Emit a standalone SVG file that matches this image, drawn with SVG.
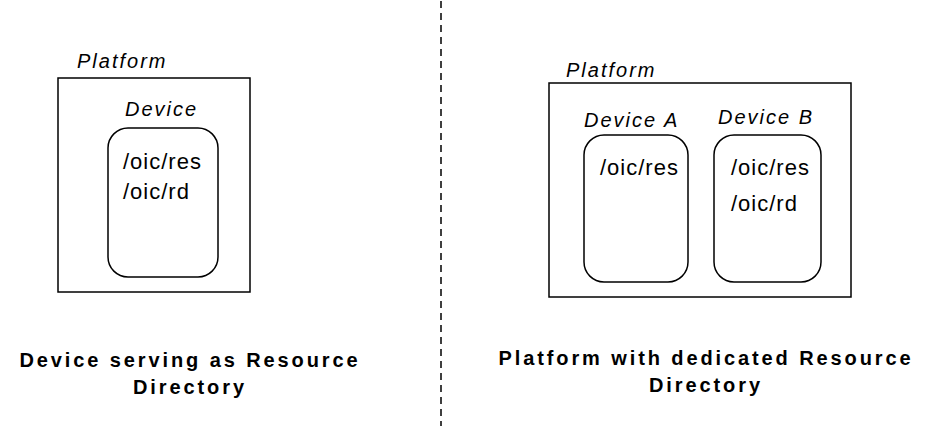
<svg xmlns="http://www.w3.org/2000/svg" width="940" height="429" viewBox="0 0 940 429">
<style>
.box{fill:none;stroke:#000;stroke-width:1.5}
.lbl{font-family:"Liberation Sans",Arial,sans-serif;font-style:italic;font-size:20px;letter-spacing:2px;fill:#000}
.res{font-family:"Liberation Sans",Arial,sans-serif;font-size:22px;letter-spacing:1px;fill:#000}
.cap{font-family:"Liberation Sans",Arial,sans-serif;font-weight:bold;font-size:20px;letter-spacing:2.9px;fill:#000;text-anchor:middle}
.div{stroke:#000;stroke-width:1.5;stroke-dasharray:7 5}
</style>
<rect width="940" height="429" fill="#fff"/>
<g id="connectors">
<line class="div" x1="441" y1="1" x2="441" y2="426"/>
</g>
<g id="platform-left">
<rect class="box" x="58" y="78" width="192" height="214"/>
<text class="lbl" x="77" y="68">Platform</text>
</g>
<g id="device">
<rect class="box" x="108" y="128" width="110" height="149" rx="20"/>
<text class="lbl" x="125" y="116">Device</text>
<text class="res" x="123" y="169">/oic/res</text>
<text class="res" x="123" y="199">/oic/rd</text>
</g>
<g id="caption-left">
<text class="cap" x="190" y="367">Device serving as Resource</text>
<text class="cap" x="190" y="394">Directory</text>
</g>
<g id="platform-right">
<rect class="box" x="549" y="83" width="302" height="214"/>
<text class="lbl" x="566" y="77">Platform</text>
</g>
<g id="device-a">
<rect class="box" x="584" y="135" width="104" height="147" rx="20"/>
<text class="lbl" x="584" y="127">Device A</text>
<text class="res" x="600" y="175">/oic/res</text>
</g>
<g id="device-b">
<rect class="box" x="714" y="135" width="107" height="147" rx="20"/>
<text class="lbl" x="718" y="124">Device B</text>
<text class="res" x="731" y="175">/oic/res</text>
<text class="res" x="731" y="211">/oic/rd</text>
</g>
<g id="caption-right">
<text class="cap" x="706" y="365">Platform with dedicated Resource</text>
<text class="cap" x="706" y="392">Directory</text>
</g>
</svg>
